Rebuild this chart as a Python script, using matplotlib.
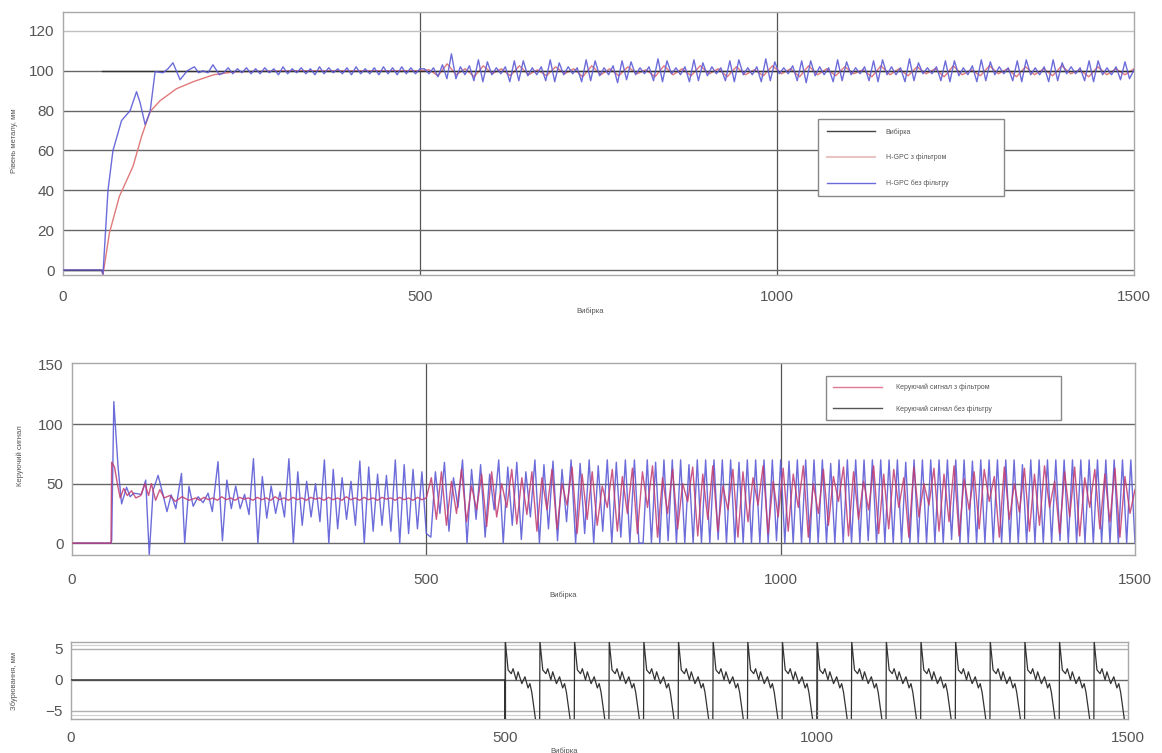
import numpy as np
import matplotlib
matplotlib.use('Agg')
import matplotlib.pyplot as plt

plt.rcParams['font.family'] = ['Liberation Sans', 'DejaVu Sans']

# ======================= DATA =======================
x_ticks = [0, 500, 1000, 1500]

# ---- top panel: metal level ----
top_yticks = [0, 20, 40, 60, 80, 100, 120]
setpoint_before_x = [0, 55]
setpoint_before_y = [0, 0]
setpoint_after_x = [55, 1500]
setpoint_after_y = [100, 100]

# filtered (H-GPC with filter) transient
lvl_filt_x = [0, 54, 56, 65, 79, 98, 110, 122, 136, 159, 183, 211, 240, 280, 320, 400, 500]
lvl_filt_y = [0, 0, -2.5, 18.6, 37, 52, 67, 79.5, 85, 91, 94.6, 98, 99.5, 99.8, 100, 100, 100]
# filtered, oscillation extrema 500..1500
lvl_filt_osc = [
    99.5, 100.5, 97.5, 103.5, 98, 101, 97, 102.5, 98.5, 101, 97.5, 102.5,
    98, 100.5, 97.5, 102, 98.5, 101, 97, 102.5, 98, 101, 97.5, 102,
    98.5, 100.5, 97, 102.5, 98, 101, 97.5, 102.5, 98.5, 101, 97, 102,
    98, 100.5, 97.5, 102.5, 98.5, 101, 97, 102.5, 98, 101, 97.5, 102,
    98.5, 100.5, 97, 102.5, 98, 101, 97.5, 102, 98.5, 101, 97, 102.5,
    98, 100.5, 97.5, 102.5, 98.5, 101, 97, 102, 98, 101, 97.5, 102.5,
    98.5, 100.5, 97, 102, 98, 101, 98, 101]

# unfiltered (H-GPC without filter) transient
lvl_raw_x = [0, 54, 56, 63, 70, 82, 94, 103, 108, 115, 122, 129, 140, 147, 154, 164, 174, 184, 190, 196, 203, 210, 219]
lvl_raw_y = [0, 0, -2, 40, 60, 75, 80, 89.5, 84, 73, 79.5, 99.6, 99, 101, 104, 95.5, 100, 102, 99, 100, 99, 103, 98]
# unfiltered, oscillation extrema 225..500
lvl_raw_osc1 = [
    99, 101.5, 98.5, 101, 99, 101.5, 98.5, 101, 98.5, 101.5, 99, 101,
    98, 102, 98.5, 101, 99, 101.5, 98.5, 101, 98, 102, 98.5, 101.5,
    99, 101, 98.5, 101.5, 98, 102, 98.5, 101, 98.5, 101.5, 98, 102,
    98.5, 101.5, 98, 102, 98.5, 101.5, 98.5, 101]
# unfiltered, oscillation extrema 500..1500
lvl_raw_osc2 = [
    99, 101, 98.5, 101.5, 97, 103, 96, 108.5,
    96, 102, 98, 102.5, 95, 105.5, 94.5, 104.5,
    98, 101.5, 98.5, 102, 94.5, 105, 95, 105,
    97.5, 101.5, 98, 102, 95, 105.5, 94.5, 104,
    98, 102, 98.5, 101.5, 94.5, 105.5, 95, 105,
    97.5, 101.5, 98, 102.5, 94, 105, 95.5, 104.5,
    98, 101.5, 98.5, 102, 95, 106, 94.5, 105,
    98.5, 101.5, 98, 102, 94.5, 105.5, 95, 104,
    97.5, 102, 98.5, 101.5, 95, 105, 94.5, 105.5,
    98, 101.5, 98, 102, 94.5, 106, 95, 104.5,
    98.5, 101.5, 98.5, 102.5, 95, 105, 94, 105,
    97.5, 102, 98, 101.5, 94.5, 105.5, 95, 104.5,
    98, 101.5, 98.5, 102, 95, 105, 94.5, 105.5,
    98, 102, 98, 101.5, 94.5, 106, 95, 104,
    98.5, 101.5, 98.5, 102, 95, 105, 94.5, 105,
    97.5, 101.5, 98, 102.5, 94.5, 105.5, 95, 104.5,
    98, 102, 98.5, 101.5, 95, 105, 94.5, 105.5,
    98, 101.5, 98, 102, 94.5, 105.5, 95, 104,
    98.5, 102, 98.5, 101.5, 95, 105, 94.5, 105,
    98, 101.5, 98, 102, 95.5, 104.5, 96, 100.5]

# ---- middle panel: control signal ----
mid_yticks = [0, 50, 100, 150]
ctl_raw_x = [0, 55, 56, 59, 65, 70, 77, 82, 87, 98, 104, 109, 114.5, 121.5, 128.5, 134, 140,
             146.5, 154.5, 159, 165, 171, 178, 185, 192, 198]
ctl_raw_y = [0, 0, 2, 119, 64, 33, 47, 39, 42, 41, 53, -10, 44.6, 57, 40.6, 26.5, 40.6,
             29, 58.6, 0, 47.7, 31, 39, 34, 42, 26.5]
# extrema 206..500
ctl_raw_osc1 = [
    68.5, 2, 53, 29, 48, 29, 41, 24,
    71, 0, 56, 21, 48, 25, 43, 22,
    71, 0, 60, 15, 52, 22, 50, 18,
    70, 0, 62, 12, 55, 20, 52, 15,
    69, 0, 64, 10, 58, 15, 57, 10,
    70, 0, 66, 8, 62, 12, 60, 8]
# extrema 500..800
ctl_raw_osc2 = [
    65, 5, 60, 25, 68, 10, 55, 30, 70, 0, 62, 20, 66, 5, 58, 28,
    70, 0, 64, 15, 68, 3, 60, 22, 70, 0, 66, 12, 69, 2, 62, 18,
    70, 0, 67, 8, 70, 0, 65, 10, 70, 0, 68, 5, 70, 0, 70, 0]
# extrema 800..1500
ctl_raw_osc3 = [
    70, 0, 70, 0, 68, 0, 70, 2, 70, 0, 70, 0, 66, 0, 70, 0, 70, 0, 70, 3,
    70, 0, 70, 0, 68, 0, 70, 0, 70, 0, 70, 0, 70, 2, 70, 0, 69, 0, 70, 0,
    70, 0, 70, 0, 70, 0, 67, 0, 70, 0, 70, 0, 70, 0, 70, 2, 70, 0, 70, 0,
    70, 0, 70, 0, 68, 0, 70, 0, 70, 0, 70, 0, 70, 0, 70, 3, 70, 0, 70, 0,
    69, 0, 70, 0, 70, 0, 70, 0, 70, 0, 70, 0, 66, 0, 70, 0, 70, 0, 70, 0,
    70, 2, 70, 0, 70, 0, 70, 0, 70, 0, 70, 0, 70, 0, 70, 0, 70, 0, 70, 0]

ctl_filt_x = [0, 55, 56, 60, 64, 68, 73, 78, 84, 90, 97, 103, 108, 112, 118, 124, 130,
              138, 146, 155, 165, 175]
ctl_filt_y = [0, 0, 68, 64, 50, 38, 46, 40, 44, 38, 40, 50, 40, 50, 36, 45, 38,
              40, 35, 39, 36, 38]
# extrema 180..500
ctl_filt_osc1 = [
    36, 38.5, 36.5, 38, 36, 39, 36.5, 38, 36, 38.5, 37, 38, 36, 38.5, 36.5, 38,
    36, 39, 36.5, 38, 36, 38.5, 36.5, 38, 36, 38.5, 37, 38, 36, 38.5, 36.5, 38,
    36, 39, 36.5, 38, 36, 38.5, 36.5, 38, 36, 38.5, 37, 38, 36, 38.5, 36.5, 38,
    36, 38.5, 36.5, 38]
# extrema 500..1500
ctl_filt_osc2 = [
    30, 55, 20, 60, 15, 52, 25, 62, 18, 48, 28, 58, 14, 60, 22, 50, 30, 62, 16, 55, 24,
    60, 10, 55, 28, 62, 12, 50, 32, 64, 8, 58, 20, 60, 15, 48, 30, 62, 10, 56, 25, 63,
    8, 60, 30, 65, 5, 55, 25, 62, 12, 50, 35, 64, 6, 58, 20, 65, 10, 48, 28, 62,
    5, 60, 18, 55, 32, 65, 8, 52, 22, 63, 10, 58, 30, 65, 5, 50, 25, 62, 15, 56,
    35, 64, 6, 60, 20, 52, 28, 65, 8, 58, 12, 62, 30, 55, 5, 64, 22, 50, 32, 63,
    10, 58, 18, 65, 6, 54, 28, 60, 12, 62, 35, 56, 5, 64, 20, 50, 26, 63, 10, 58,
    15, 65, 30, 52, 8, 60, 22, 64, 6, 55, 30, 62, 12, 58, 18, 63, 5, 56, 25, 45]

# ---- bottom panel: disturbance ----
bot_yticks = [-5, 0, 5]
dist_start = 500
dist_cycles = 18
dist_period = 55.6
dist_cycle_t = [0, 0.5, 5, 10, 13, 18, 21, 27, 32, 37, 40, 43, 49, 55]
dist_cycle_v = [-6.4, 6.2, 1.6, 1.0, 1.8, 0.0, 1.3, -0.6, 0.5, -1.3, -0.6, -2.0, -6.4, -6.4]

# ======================= HELPERS =======================
def seg(a, b, vals):
    return np.linspace(a, b, len(vals)), np.asarray(vals, float)


def style_axes(ax, yticks, ylim):
    ax.set_xlim(0, 1500)
    ax.set_ylim(*ylim)
    ax.set_xticks(x_ticks)
    ax.set_yticks(yticks)
    ax.tick_params(length=0, labelsize=11, colors='#555555')
    for s in ax.spines.values():
        s.set_color('#a8a8a8')
        s.set_linewidth(1.0)
    for xv in x_ticks[1:-1]:
        ax.axvline(xv, color='#555555', lw=0.9, zorder=1)


W, H = 1162, 753
fig = plt.figure(figsize=(W / 100, H / 100), dpi=100)


def add_axes(l, r, t, b):
    return fig.add_axes([l / W, 1 - b / H, (r - l) / W, (b - t) / H])


blue = '#5c5cd6'

# ---------------- TOP ----------------
ax1 = add_axes(63, 1134, 12, 275)
style_axes(ax1, top_yticks, (-2.5, 129.5))
for yv in top_yticks:
    ax1.axhline(yv, color='#c0c0c0' if yv == 120 else '#666666', lw=1.0, zorder=1)
ax1.tick_params(axis='y', pad=6)
ax1.tick_params(axis='x', pad=11)

fx, fy = seg(500, 1500, lvl_filt_osc)
ax1.plot(np.r_[lvl_filt_x, fx[1:]], np.r_[lvl_filt_y, fy[1:]], color='#e07a7a', lw=1.0, zorder=2)
ax1.plot(setpoint_before_x, setpoint_before_y, color='#333333', lw=1.0, zorder=2)
ax1.plot(setpoint_after_x, setpoint_after_y, color='#333333', lw=1.0, zorder=2)
r1x, r1y = seg(225, 500, lvl_raw_osc1)
r2x, r2y = seg(500, 1500, lvl_raw_osc2)
ax1.plot(np.r_[lvl_raw_x, r1x, r2x[1:]], np.r_[lvl_raw_y, r1y, r2y[1:]], color=blue, lw=1.0,
         alpha=0.9, zorder=3)

ax1.set_ylabel('Рівень металу, мм', fontsize=5.5, color='#555555')
ax1.yaxis.set_label_coords(-0.042, 0.51)
ax1.set_xlabel('Вибірка', fontsize=5.5, color='#555555')
ax1.xaxis.set_label_coords(0.492, -0.122)

h1 = [plt.Line2D([], [], color='#444444', lw=1),
      plt.Line2D([], [], color='#e8c4c4', lw=1.5),
      plt.Line2D([], [], color='#6a6ad8', lw=1)]
leg1 = ax1.legend(h1, ['Вибірка', 'H-GPC з фільтром', 'H-GPC без фільтру'],
                  loc='upper left', bbox_to_anchor=(0.702, 0.605, 0.18, 0.0), mode='expand',
                  fontsize=5, handlelength=7, labelspacing=2.6, borderpad=1.2,
                  fancybox=False, framealpha=1, edgecolor='#888888', handletextpad=1.5)
for t in leg1.get_texts():
    t.set_color('#555555')

# ---------------- MIDDLE ----------------
ax2 = add_axes(72, 1135, 363, 555)
style_axes(ax2, mid_yticks, (-10, 151.5))
for yv in mid_yticks[:-1]:
    ax2.axhline(yv, color='#666666', lw=1.0, zorder=1)
ax2.tick_params(axis='y', pad=6)
ax2.tick_params(axis='x', pad=13)

b1x, b1y = seg(206, 500, ctl_raw_osc1)
b2x, b2y = seg(500, 800, ctl_raw_osc2)
b3x, b3y = seg(800, 1500, ctl_raw_osc3)
ax2.plot(np.r_[ctl_raw_x, b1x, b2x[1:], b3x[1:]], np.r_[ctl_raw_y, b1y, b2y[1:], b3y[1:]],
         color=blue, lw=1.0, alpha=0.9, zorder=2)
c1x, c1y = seg(180, 500, ctl_filt_osc1)
c2x, c2y = seg(500, 1500, ctl_filt_osc2)
ax2.plot(np.r_[ctl_filt_x, c1x, c2x[1:]], np.r_[ctl_filt_y, c1y, c2y[1:]],
         color='#c23a6e', lw=1.0, alpha=0.85, zorder=3)

ax2.set_ylabel('Керуючий сигнал', fontsize=5.5, color='#555555')
ax2.yaxis.set_label_coords(-0.045, 0.52)
ax2.set_xlabel('Вибірка', fontsize=5.5, color='#555555')
ax2.xaxis.set_label_coords(0.462, -0.19)

h2 = [plt.Line2D([], [], color='#e07a90', lw=1),
      plt.Line2D([], [], color='#555555', lw=1)]
leg2 = ax2.legend(h2, ['Керуючий сигнал з фільтром', 'Керуючий сигнал без фільтру'],
                  loc='upper left', bbox_to_anchor=(0.7065, 0.948, 0.227, 0.0), mode='expand',
                  fontsize=5, handlelength=7, labelspacing=2.0, borderpad=1.0,
                  fancybox=False, framealpha=1, edgecolor='#888888', handletextpad=2.0)
for t in leg2.get_texts():
    t.set_color('#555555')

# ---------------- BOTTOM ----------------
ax3 = add_axes(71, 1128, 642, 719)
px_break = [0, 434, 1057]
x_break = [0, 500, 1500]
ax3.set_xscale('function', functions=(lambda v: np.interp(v, x_break, px_break),
                                      lambda p: np.interp(p, px_break, x_break)))
style_axes(ax3, bot_yticks, (-6.3, 6.1))
ax3.axhline(0, color='#666666', lw=1.0, zorder=1)
for yv in (5, -5):
    ax3.axhline(yv, color='#b0b0b0', lw=1.0, zorder=1)
    ax3.axhline(yv + (0.6 if yv > 0 else -0.6), color='#d0d0d0', lw=0.8, zorder=1)
ax3.tick_params(axis='y', pad=6)
ax3.tick_params(axis='x', pad=9)

dx = [0, dist_start]
dy = [0, 0]
for k in range(dist_cycles):
    t0 = dist_start + k * dist_period
    dx += [t0 + t for t in dist_cycle_t]
    dy += list(dist_cycle_v)
ax3.plot(dx, dy, color='#333333', lw=0.9, zorder=3)

ax3.set_ylabel('Збурювання, мм', fontsize=5.5, color='#555555')
ax3.yaxis.set_label_coords(-0.05, 0.5)
ax3.set_xlabel('Вибірка', fontsize=5.5, color='#555555')
ax3.xaxis.set_label_coords(0.467, -0.36)

fig.savefig('out.png', dpi=100, facecolor='white')
